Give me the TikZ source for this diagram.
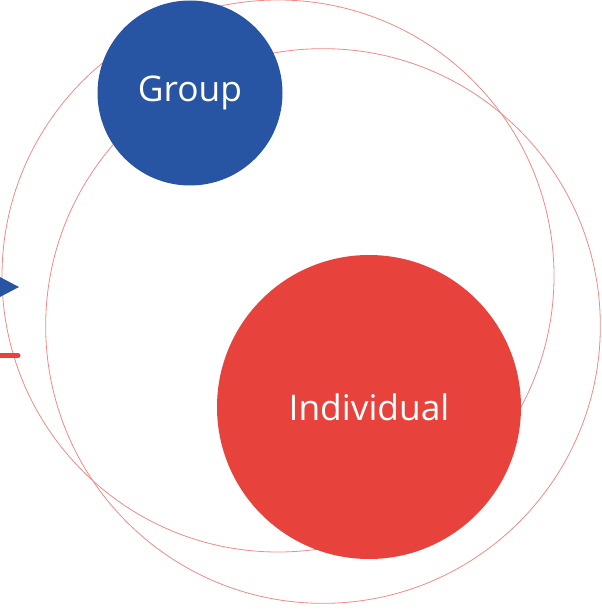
\documentclass[tikz,border=0pt]{standalone}
\usepackage{fontspec}
\setmainfont{Open Sans}
\definecolor{groupblue}{HTML}{2855A3}
\definecolor{indred}{HTML}{E8423D}
\definecolor{ringred}{HTML}{F08A86}
\begin{document}
\begin{tikzpicture}[x=0.75pt,y=-0.75pt]
    \tikzstyle{ring}=[draw=ringred,line width=0.6pt,circle,inner sep=0pt]
    \tikzstyle{blob}=[circle,inner sep=0pt,text=white,font=\fontsize{26.5}{30}\selectfont]

    \useasboundingbox (0,0) rectangle (601,609);
    \clip (0,0) rectangle (601,609);

    \node[ring,minimum size=414pt] at (278,276) (outerA) {};
    \node[ring,minimum size=416pt] at (323,326) (outerB) {};

    \node[blob,fill=groupblue,minimum size=138.75pt] at (190,93) (group) {Group};
    \node[blob,fill=indred,minimum size=228pt] at (369,407) (indiv) {Individual\hspace{6pt}};

    %\node at (0,287) (tri) {};
    \coordinate (tip) at (19,287);
    \coordinate (bar) at (18,355.5);
    \fill[groupblue] (tip) -- (-2,276) -- (-2,298) -- cycle;
    \draw[indred,line width=3.8pt,line cap=round] (-5,355.5) -- (bar);
\end{tikzpicture}
\end{document}
